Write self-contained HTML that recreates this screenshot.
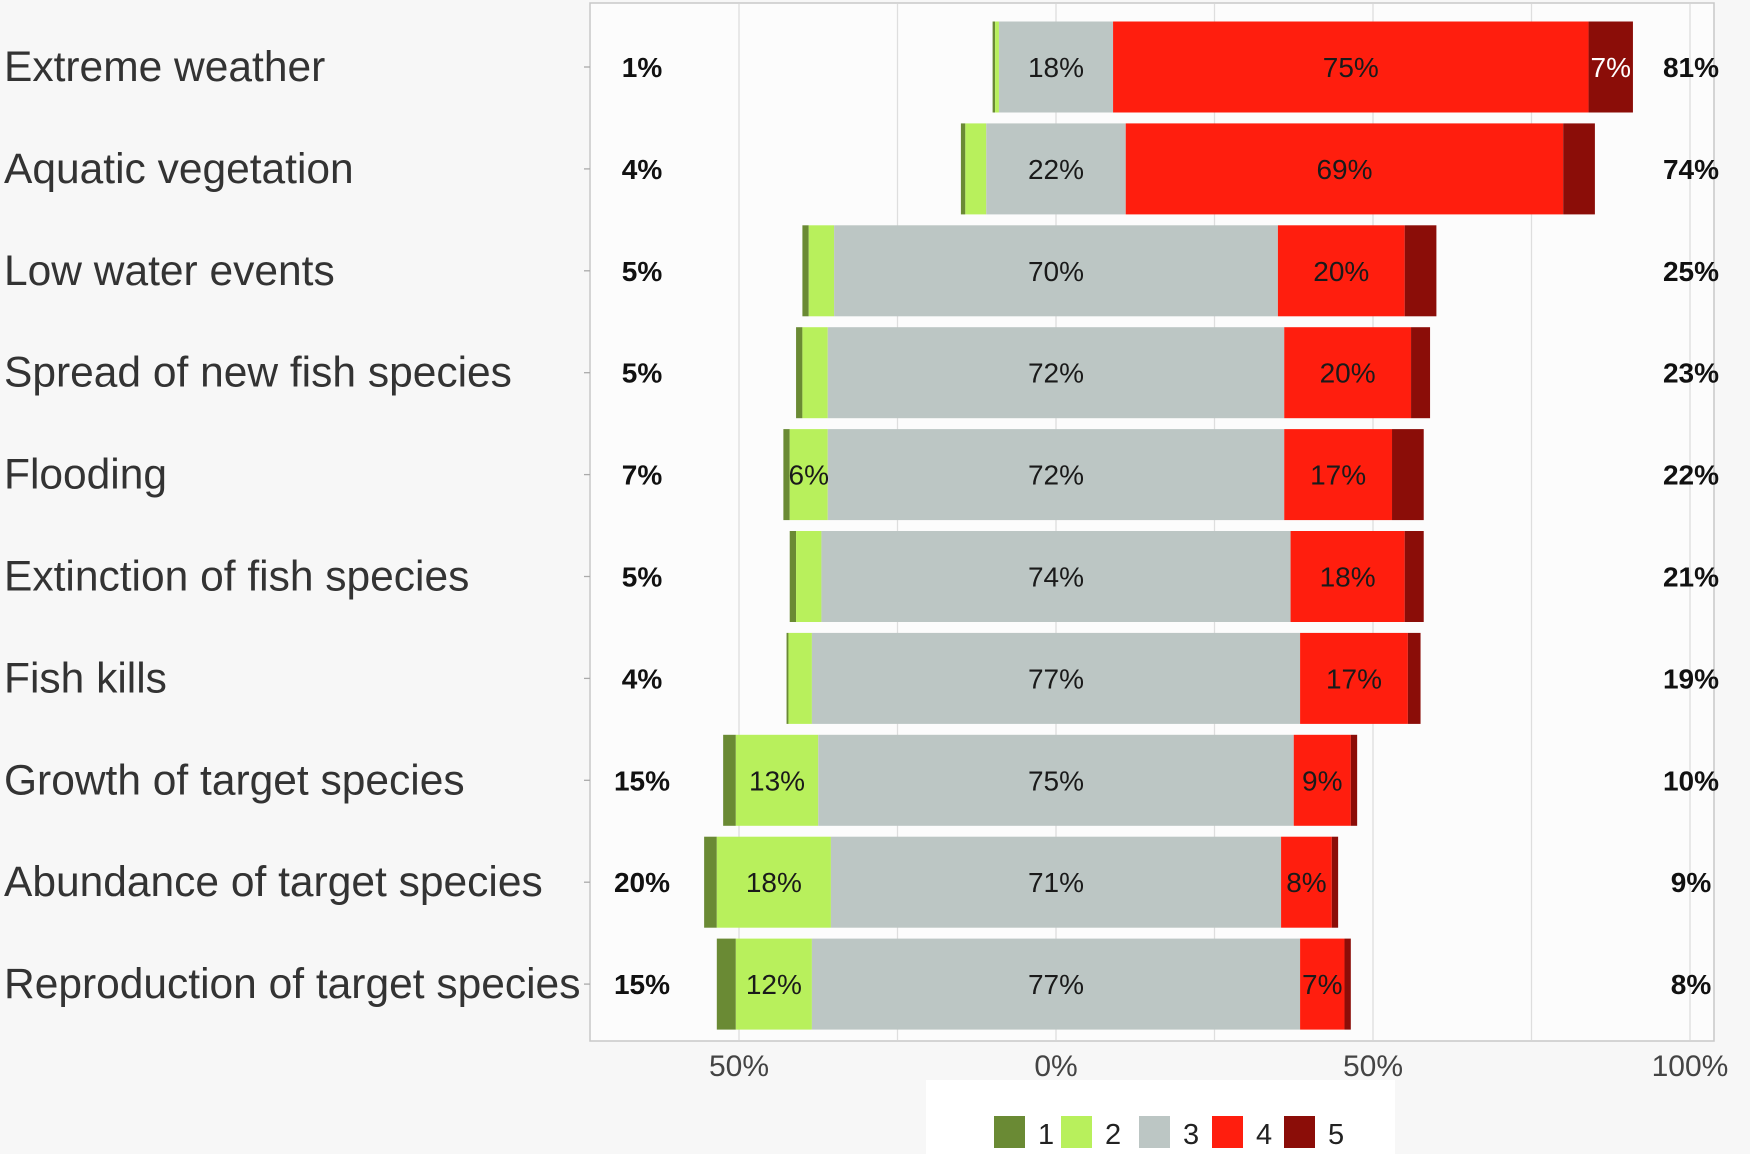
<!DOCTYPE html>
<html><head><meta charset="utf-8"><style>
body{margin:0;background:#f7f7f7;}
svg{display:block;font-family:"Liberation Sans",sans-serif;}
</style></head><body>
<svg id="chart" width="1750" height="1154" viewBox="0 0 1750 1154" xmlns="http://www.w3.org/2000/svg">
<rect x="0" y="0" width="1750" height="1154" fill="#f7f7f7"/>
<rect x="590" y="3" width="1124" height="1038" fill="#fcfcfc" stroke="#c8c8c8" stroke-width="1.5"/>
<rect x="926" y="1080" width="469" height="74" fill="#ffffff"/>
<g id="grid"></g><g id="bars"></g><g id="labels"></g><g id="legend"></g>
</svg>
<script>
const categories=["Extreme weather","Aquatic vegetation","Low water events","Spread of new fish species","Flooding","Extinction of fish species","Fish kills","Growth of target species","Abundance of target species","Reproduction of target species"];
const s1=[0.4,0.7,1,1,1,1,0.3,2,2,3];
const s2=[0.6,3.3,4,4,6,4,3.7,13,18,12];
const s3=[18,22,70,72,72,74,77,75,71,77];
const s4=[75,69,20,20,17,18,17,9,8,7];
const s5=[7,5,5,3,5,3,2,1,1,1];
const leftTotals=["1%","4%","5%","5%","7%","5%","4%","15%","20%","15%"];
const rightTotals=["81%","74%","25%","23%","22%","21%","19%","10%","9%","8%"];
const gridValues=[-50,-25,0,25,50,75,100];
const tickValues=[-50,0,50,100];
const tickLabels=["50%","0%","50%","100%"];
const legendLabels=["1","2","3","4","5"];
const colors=["#6a8a34","#b8f05c","#bcc6c4","#ff1e0e","#8b0d08"];
const NS="http://www.w3.org/2000/svg";
function x(v){return 1056+v*6.34;}
function y(i){return 67+i*101.9;}
const BH=91;
function mk(tag,attrs,parent,text){const e=document.createElementNS(NS,tag);for(const k in attrs)e.setAttribute(k,attrs[k]);if(text!==undefined)e.textContent=text;document.getElementById(parent).appendChild(e);return e;}
gridValues.forEach(v=>{
 const l=mk('line',{x1:x(v),x2:x(v),y1:4,y2:1040,stroke:'#dedede','stroke-width':1.3},'grid');
 
 
});
tickValues.forEach((v,i)=>{
 const t=mk('text',{x:x(v),y:1076,'font-size':30,fill:'#444','text-anchor':'middle'},'labels',tickLabels[i]);
 
 
});
const series=[s1,s2,s3,s4,s5];
categories.forEach((c,i)=>{
 const cy=y(i);
 let start=-(s1[i]+s2[i]+s3[i]/2);
 series.forEach((s,k)=>{
  const v=s[i];
  const r=mk('rect',{x:x(start),y:cy-BH/2,width:x(start+v)-x(start),height:BH,fill:colors[k]},'bars');
  
  
  const show=(k==2)||(k==1&&v>=6)||(k==3&&v>=7)||(k==4&&v>=7);
  if(show){
   const t=mk('text',{x:(x(start)+x(start+v))/2,y:cy+10,'font-size':28,fill:k==4?'#ffffff':'#1a1a1a','text-anchor':'middle'},'labels',Math.round(v)+'%');
   
   
  }
  start+=v;
 });
 const lab=mk('text',{x:4,y:cy+14,'font-size':42.5,fill:'#333'},'labels',c);
 
 
 const tk=mk('line',{x1:584,x2:590,y1:cy,y2:cy,stroke:'#aaa','stroke-width':1.3},'grid');
 
 
 const lt=mk('text',{x:642,y:cy+10,'font-size':28,'font-weight':'bold',fill:'#111','text-anchor':'middle'},'labels',leftTotals[i]);
 
 
 const rt=mk('text',{x:1691,y:cy+10,'font-size':28,'font-weight':'bold',fill:'#111','text-anchor':'middle'},'labels',rightTotals[i]);
 
 
});
const lx=[994,1061,1139,1212,1284];
legendLabels.forEach((l,i)=>{
 const r=mk('rect',{x:lx[i],y:1116,width:31,height:32,fill:colors[i]},'legend');
 
 
 const t=mk('text',{x:lx[i]+44,y:1144,'font-size':29,fill:'#222'},'legend',l);
 
 
});
</script>
</body></html>
